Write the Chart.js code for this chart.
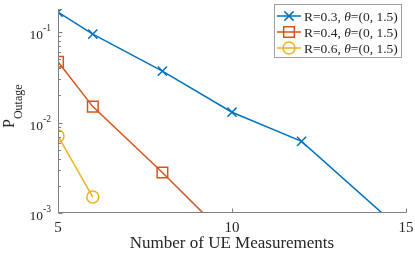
<!DOCTYPE html>
<html>
<head>
<meta charset="utf-8">
<script src="https://cdn.jsdelivr.net/npm/chart.js@4"></script>
<style>
  html, body { margin: 0; padding: 0; background: #fff; }
  #grafico { display: block; }
</style>
</head>
<body>
<canvas id="grafico" width="415" height="256"></canvas>
<script>
// valores
const medicoesR03 = [5, 6, 8, 10, 12, 15];
const outageR03 = [0.166, 0.095, 0.037, 0.013, 0.0062, 0.00058];
const medicoesR04 = [5, 6, 8, 10];
const outageR04 = [0.047, 0.015, 0.0028, 0.00048];
const medicoesR06 = [5, 6];
const outageR06 = [0.0071, 0.0015];
const rotulosR = ['R=0.3', 'R=0.4', 'R=0.6'];
const rotuloTheta = '=(0, 1.5)';
const xTicks = [5, 10, 15];
const yTicks = [1e-3, 1e-2, 1e-1];
const yExpoentes = ['-3', '-2', '-1'];
const tituloX = 'Number of UE Measurements';

document.addEventListener("DOMContentLoaded", function () {
  const corTexto = '#262626';
  const corEixo = '#808080';
  const fonte = 'Liberation Serif';

  function pontos(xs, ys) {
    return xs.map((x, i) => ({ x: x, y: ys[i] }));
  }

  function desenharMarcador(ctx, estilo, x, y, raio, cor) {
    ctx.save();
    ctx.strokeStyle = cor;
    ctx.lineWidth = 1.5;
    ctx.beginPath();
    if (estilo === 'crossRot') {
      const d = raio * Math.SQRT1_2;
      ctx.moveTo(x - d, y - d); ctx.lineTo(x + d, y + d);
      ctx.moveTo(x - d, y + d); ctx.lineTo(x + d, y - d);
    } else if (estilo === 'rect') {
      const d = raio * Math.SQRT1_2;
      ctx.rect(x - d, y - d, 2 * d, 2 * d);
    } else {
      ctx.arc(x, y, raio, 0, Math.PI * 2);
    }
    ctx.stroke();
    ctx.restore();
  }

  const eixosPlugin = {
    id: 'eixosMatlab',
    afterDatasetsDraw(chart) {
      const { ctx, chartArea, scales } = chart;
      const sx = scales.x, sy = scales.y;
      const esq = Math.round(chartArea.left) + 0.5;
      const base = Math.round(chartArea.bottom) - 0.5;
      ctx.save();
      ctx.strokeStyle = corEixo;
      ctx.lineWidth = 1;
      ctx.beginPath();
      ctx.moveTo(esq, chartArea.top);
      ctx.lineTo(esq, base);
      ctx.lineTo(Math.round(chartArea.right) + 0.5, base);
      // ticks x (para dentro)
      xTicks.forEach(v => {
        const px = Math.round(sx.getPixelForValue(v)) + 0.5;
        ctx.moveTo(px, base);
        ctx.lineTo(px, base - 4);
      });
      // ticks y maiores e menores
      for (let e = -3; e <= -1; e++) {
        for (let m = 1; m <= 9; m++) {
          const v = m * Math.pow(10, e);
          if (v > sy.max) continue;
          const py = Math.round(sy.getPixelForValue(v)) + 0.5;
          ctx.moveTo(esq, py);
          ctx.lineTo(esq + (m === 1 ? 4 : 2.5), py);
        }
      }
      ctx.stroke();

      ctx.fillStyle = corTexto;
      // rotulos x
      ctx.font = '15px "' + fonte + '"';
      ctx.textAlign = 'center';
      ctx.textBaseline = 'alphabetic';
      xTicks.forEach(v => {
        ctx.fillText(String(v), sx.getPixelForValue(v), 232);
      });
      ctx.font = '17px "' + fonte + '"';
      ctx.fillText(tituloX, (chartArea.left + chartArea.right) / 2, 248);

      // rotulos y: 10 com expoente
      yTicks.forEach((v, i) => {
        const py = sy.getPixelForValue(v);
        ctx.font = '9.5px "' + fonte + '"';
        const wExp = ctx.measureText(yExpoentes[i]).width;
        ctx.textAlign = 'left';
        ctx.fillText(yExpoentes[i], 51 - wExp, py - 1);
        ctx.font = '13.5px "' + fonte + '"';
        ctx.textAlign = 'right';
        ctx.fillText('10', 51 - wExp, py + 7);
      });

      // titulo y: P com subscrito
      ctx.save();
      ctx.translate(14, 128);
      ctx.rotate(-Math.PI / 2);
      ctx.textAlign = 'left';
      ctx.font = '16px "' + fonte + '"';
      ctx.fillText('P', 0, 0);
      const wP = ctx.measureText('P').width;
      ctx.font = '12px "' + fonte + '"';
      ctx.fillText('Outage', wP, 8);
      ctx.restore();

      // legenda
      ctx.fillStyle = '#ffffff';
      ctx.fillRect(274, 4, 127, 53);
      ctx.strokeStyle = '#a0a0a0';
      ctx.strokeRect(274.5, 4.5, 127, 53);
      chart.data.datasets.forEach((ds, i) => {
        const y = 16 + i * 16;
        ctx.strokeStyle = ds.borderColor;
        ctx.lineWidth = 1.5;
        ctx.beginPath();
        ctx.moveTo(277, y);
        ctx.lineTo(301, y);
        ctx.stroke();
        desenharMarcador(ctx, ds.pointStyle, 289, y, ds.pointRadius, ds.borderColor);
        ctx.fillStyle = corTexto;
        ctx.textAlign = 'left';
        ctx.textBaseline = 'middle';
        let x = 304;
        ctx.font = '13.5px "' + fonte + '"';
        const parte1 = rotulosR[i] + ', ';
        ctx.fillText(parte1, x, y + 1);
        x += ctx.measureText(parte1).width;
        ctx.font = 'italic 13.5px "' + fonte + '"';
        ctx.fillText('\u03B8', x, y + 1);
        x += ctx.measureText('\u03B8').width;
        ctx.font = '13.5px "' + fonte + '"';
        ctx.fillText(rotuloTheta, x, y + 1);
      });
      ctx.restore();
    }
  };

  const serieBase = {
    borderWidth: 1.5,
    pointBackgroundColor: 'rgba(0,0,0,0)',
    pointBorderWidth: 1.5,
    pointHoverRadius: 0,
    tension: 0,
    fill: false
  };

  new Chart(document.getElementById('grafico'), {
    type: 'line',
    data: {
      datasets: [
        Object.assign({}, serieBase, {
          label: rotulosR[0],
          data: pontos(medicoesR03, outageR03),
          borderColor: '#0072BD',
          pointBorderColor: '#0072BD',
          pointStyle: 'crossRot',
          pointRadius: 6.5
        }),
        Object.assign({}, serieBase, {
          label: rotulosR[1],
          data: pontos(medicoesR04, outageR04),
          borderColor: '#D95319',
          pointBorderColor: '#D95319',
          pointStyle: 'rect',
          pointRadius: 7.5
        }),
        Object.assign({}, serieBase, {
          label: rotulosR[2],
          data: pontos(medicoesR06, outageR06),
          borderColor: '#EDB120',
          pointBorderColor: '#EDB120',
          pointStyle: 'circle',
          pointRadius: 6
        })
      ]
    },
    options: {
      responsive: false,
      animation: false,
      devicePixelRatio: 1,
      layout: { padding: { left: 58, right: 8, top: 0, bottom: 43 } },
      scales: {
        x: { type: 'linear', min: 5, max: 15, display: false },
        y: { type: 'logarithmic', min: 1e-3, max: 0.18, display: false }
      },
      plugins: {
        legend: { display: false },
        tooltip: { enabled: false }
      }
    },
    plugins: [eixosPlugin]
  });
});
</script>
</body>
</html>
